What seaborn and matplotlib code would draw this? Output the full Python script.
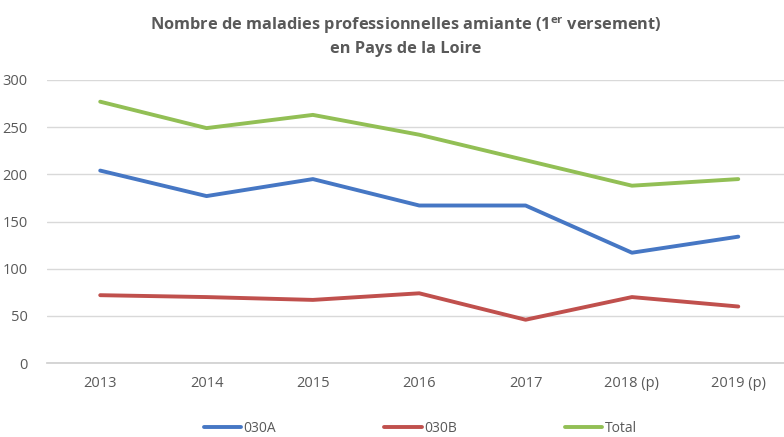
import matplotlib
matplotlib.use("Agg")
import matplotlib.pyplot as plt
import seaborn as sns
import pandas as pd

years = ["2013", "2014", "2015", "2016", "2017", "2018 (p)", "2019 (p)"]
s030A = [204, 177, 195, 167, 167, 117, 134]
s030B = [72, 70, 67, 74, 46, 70, 60]
total = [277, 249, 263, 242, 215, 188, 195]
series_names = ["030A", "030B", "Total"]
colors = ["#4677C4", "#C0504D", "#92BF55"]
yticks = [0, 50, 100, 150, 200, 250, 300]

rows = []
for name, vals in zip(series_names, [s030A, s030B, total]):
    for i, (y, v) in enumerate(zip(years, vals)):
        rows.append({"idx": i, "year": y, "value": v, "serie": name})
df = pd.DataFrame(rows)

sns.set_theme(style="white")
plt.rcParams['font.family'] = ['Open Sans', 'DejaVu Sans']
plt.rcParams['mathtext.fontset'] = 'custom'
plt.rcParams['mathtext.bf'] = 'Open Sans:bold'
plt.rcParams['mathtext.rm'] = 'Open Sans'

fig = plt.figure(figsize=(7.84, 4.37), dpi=100)
ax = fig.add_axes([0.06, 0.169, 0.94, 0.648])

sns.lineplot(data=df, x="idx", y="value", hue="serie", palette=colors,
             hue_order=series_names, linewidth=2.8, ax=ax, legend=True)

ax.set_ylim(0, 300)
ax.set_xlim(-0.5, 6.43)
ax.set_yticks(yticks)
ax.set_xticks(range(len(years)))
ax.set_xticklabels(years)
ax.set_xlabel("")
ax.set_ylabel("")
ax.grid(axis="y", color="#D9D9D9", linewidth=1)
ax.set_axisbelow(True)
for side in ["top", "right", "left"]:
    ax.spines[side].set_visible(False)
ax.spines["bottom"].set_color("#D0D0D0")
ax.tick_params(axis="both", length=0, labelsize=10.5, labelcolor="#595959", pad=9)
ax.tick_params(axis="y", pad=14)

handles, labels = ax.get_legend_handles_labels()
ax.legend(handles, labels, loc="center", bbox_to_anchor=(0.536, 0.02),
          bbox_transform=fig.transFigure, ncol=3, frameon=False,
          handlelength=2.7, handletextpad=0.15, columnspacing=7.8,
          fontsize=10, labelcolor="#595959")

fig.text(0.517, 0.942, r"Nombre de maladies professionnelles amiante (1$^{\mathbf{er}}$ versement)",
         ha="center", va="center", fontsize=11.8, fontweight="bold", color="#595959")
fig.text(0.517, 0.888, "en Pays de la Loire",
         ha="center", va="center", fontsize=11.8, fontweight="bold", color="#595959")

fig.savefig("out.png", dpi=100)
